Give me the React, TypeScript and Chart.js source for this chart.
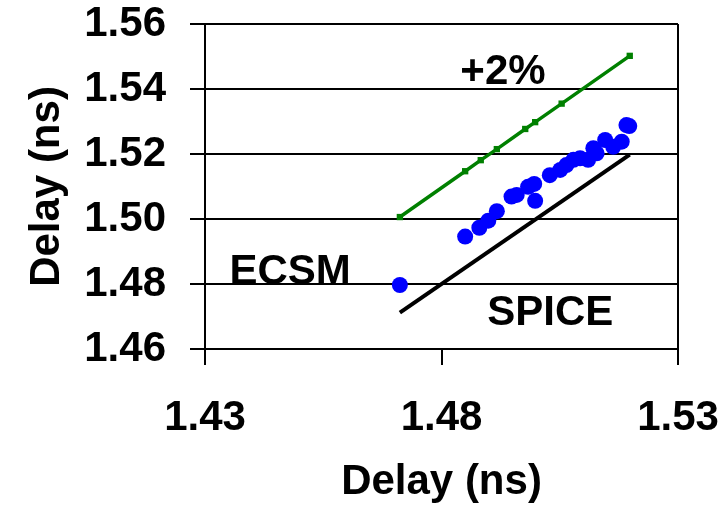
import React, { useEffect, useRef } from 'react';
import { Chart, registerables } from 'chart.js';

Chart.register(...registerables);

// ECSM scatter (x = SPICE delay, y = ECSM delay), ns
const ecsmX = [1.4712, 1.485, 1.488, 1.4899, 1.4917, 1.4948, 1.4959, 1.4983, 1.4996, 1.4998, 1.5029, 1.5051, 1.5064, 1.5079, 1.5093, 1.511, 1.5121, 1.5128, 1.5146, 1.5163, 1.5181, 1.5191, 1.5197];
const ecsmY = [1.4797, 1.4946, 1.4973, 1.4995, 1.5024, 1.5069, 1.5074, 1.5099, 1.5108, 1.5056, 1.5135, 1.5151, 1.5166, 1.5182, 1.5187, 1.5182, 1.5218, 1.5202, 1.5243, 1.5222, 1.5238, 1.5289, 1.5286];

// +2% reference line
const plusX = [1.4712, 1.485, 1.4883, 1.4917, 1.4977, 1.4998, 1.5054, 1.5198];
const plusY = [1.5006, 1.5147, 1.5181, 1.5215, 1.5277, 1.5298, 1.5355, 1.5502];

// SPICE line
const spiceX = [1.4712, 1.5198];
const spiceY = [1.4712, 1.5198];

const xTicks = [1.43, 1.48, 1.53];
const yTicks = [1.46, 1.48, 1.5, 1.52, 1.54, 1.56];

const noteTexts = ['+2%', 'ECSM', 'SPICE'];
const noteX = [1.493, 1.448, 1.503];
const noteY = [1.545, 1.4837, 1.4711];

const FONT = "'Liberation Sans', Arial, sans-serif";
const FSIZE = 42;

const notesPlugin = {
  id: 'notes',
  afterDatasetsDraw(chart: any) {
    const { ctx, scales } = chart;
    ctx.save();
    ctx.fillStyle = '#000';
    ctx.font = `bold ${FSIZE}px ${FONT}`;
    ctx.textAlign = 'center';
    ctx.textBaseline = 'middle';
    noteTexts.forEach((t, i) => {
      ctx.fillText(t, scales.x.getPixelForValue(noteX[i]), scales.y.getPixelForValue(noteY[i]));
    });
    ctx.restore();
  },
};

export default function App() {
  const ref = useRef<HTMLCanvasElement>(null);
  useEffect(() => {
    if (!ref.current) return;
    const tickFont = { family: FONT, size: FSIZE, weight: 'bold' as const };
    const chart = new Chart(ref.current, {
      type: 'scatter',
      data: {
        datasets: [
          {
            label: 'ECSM',
            data: ecsmX.map((x, i) => ({ x, y: ecsmY[i] })),
            backgroundColor: '#0000FF',
            borderColor: '#0000FF',
            pointRadius: 8,
            pointBorderWidth: 0,
            showLine: false,
          },
          {
            label: '+2%',
            data: plusX.map((x, i) => ({ x, y: plusY[i] })),
            borderColor: '#008000',
            backgroundColor: '#008000',
            borderWidth: 3.5,
            pointRadius: 2,
            pointStyle: 'rect',
            showLine: true,
          },
          {
            label: 'SPICE',
            data: spiceX.map((x, i) => ({ x, y: spiceY[i] })),
            borderColor: '#000',
            backgroundColor: '#000',
            borderWidth: 4,
            pointRadius: 0,
            showLine: true,
          },
        ],
      },
      options: {
        animation: false,
        responsive: false,
        devicePixelRatio: 1,
        layout: { padding: { top: 24, right: 47, left: 0, bottom: 0 } },
        plugins: { legend: { display: false }, tooltip: { enabled: false } },
        scales: {
          x: {
            type: 'linear',
            min: 1.43,
            max: 1.53,
            afterBuildTicks: (s: any) => { s.ticks = xTicks.map((v) => ({ value: v })); },
            afterFit: (s: any) => { s.height = 159; s.paddingLeft = 0; s.paddingRight = 0; },
            grid: {
              color: (c: any) => (c.index === xTicks.length - 1 ? '#000' : 'rgba(0,0,0,0)'),
              tickColor: '#000',
              lineWidth: 2,
              tickLength: 16,
            },
            border: { color: '#000', width: 2 },
            ticks: {
              font: tickFont,
              color: '#000',
              padding: 28,
              maxRotation: 0,
              autoSkip: false,
              callback: (v: any) => Number(v).toFixed(2),
            },
            title: { display: true, text: 'Delay (ns)', font: tickFont, color: '#000', padding: 0 },
          },
          y: {
            type: 'linear',
            min: 1.46,
            max: 1.56,
            afterBuildTicks: (s: any) => { s.ticks = yTicks.map((v) => ({ value: v })); },
            afterFit: (s: any) => { s.width = 205; s.paddingTop = 0; s.paddingBottom = 0; },
            grid: { color: '#000', tickColor: '#000', lineWidth: 2, tickLength: 15 },
            border: { color: '#000', width: 2 },
            ticks: {
              font: tickFont,
              color: '#000',
              padding: 24,
              autoSkip: false,
              callback: (v: any) => Number(v).toFixed(2),
            },
            title: { display: true, text: 'Delay (ns)', font: tickFont, color: '#000', padding: { top: 22, bottom: 0 } },
          },
        },
      },
      plugins: [notesPlugin],
    });
    return () => chart.destroy();
  }, []);
  return (
    <div style={{ position: 'absolute', left: 0, top: 0, width: 725, height: 508, background: '#fff' }}>
      <canvas ref={ref} width={725} height={508} />
    </div>
  );
}
